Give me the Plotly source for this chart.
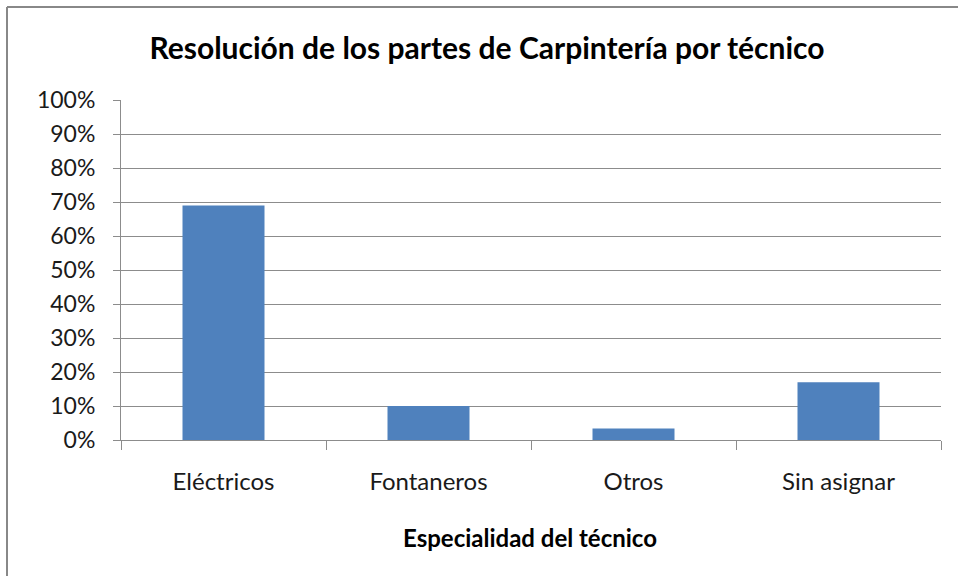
import plotly.graph_objects as go

categories = ["Eléctricos", "Fontaneros", "Otros", "Sin asignar"]
values = [0.69, 0.10, 0.034, 0.17]
y_ticks = [0, 0.1, 0.2, 0.3, 0.4, 0.5, 0.6, 0.7, 0.8, 0.9, 1.0]
y_tick_labels = ["0%", "10%", "20%", "30%", "40%", "50%", "60%", "70%", "80%", "90%", "100%"]

W, H = 958, 576
L, R, T, B = 121, 17, 100, 136
pw, ph = W - L - R, H - T - B

def px_x(x):
    return (x - L) / pw

def px_y(y):
    return (H - B - y) / ph

fig = go.Figure(go.Bar(x=categories, y=values, marker=dict(color="#4F81BD", line=dict(width=0))))

font_family = "Lato, 'Open Sans', sans-serif"
grid = "#8C8C8C"

fig.update_layout(
    width=W, height=H,
    margin=dict(l=L, r=R, t=T, b=B),
    paper_bgcolor="white", plot_bgcolor="white",
    bargap=0.6,
    showlegend=False,
    title=dict(text="<b>Resolución de los partes de Carpintería por técnico</b>",
               x=487 / W, xanchor="center", y=1 - 48 / H, yanchor="middle",
               font=dict(family=font_family, size=30, color="#000000")),
    font=dict(family=font_family, color="#000000"),
)

fig.update_xaxes(
    type="category", showline=True, linecolor=grid, linewidth=1,
    ticks="outside", tickson="boundaries", ticklen=9, tickcolor=grid,
    tickfont=dict(size=24, color="#1a1a1a"),
    ticklabelstandoff=20,
    showgrid=False, zeroline=False,
)
fig.update_yaxes(
    range=[0, 1], tickvals=y_ticks, ticktext=y_tick_labels,
    showline=True, linecolor=grid, linewidth=1,
    ticks="outside", ticklen=7, tickcolor=grid,
    ticklabelstandoff=13,
    showgrid=True, gridcolor=grid, gridwidth=1, zeroline=False,
    tickfont=dict(size=23, color="#1a1a1a"),
)

fig.add_annotation(text="<b>Especialidad del técnico</b>", xref="paper", yref="paper",
                   x=px_x(530), y=px_y(537), xanchor="center", yanchor="middle",
                   showarrow=False, font=dict(size=24, color="#000000"))

# outer chart frame (top and left edges visible)
fig.add_shape(type="line", xref="paper", yref="paper",
              x0=px_x(7), x1=px_x(958), y0=px_y(7), y1=px_y(7),
              line=dict(color="#888888", width=2))
fig.add_shape(type="line", xref="paper", yref="paper",
              x0=px_x(7), x1=px_x(7), y0=px_y(7), y1=px_y(576),
              line=dict(color="#888888", width=2))

fig.write_html("out.html", config={"displayModeBar": False},
               post_script="document.body.style.margin='0';document.body.style.padding='0';")
